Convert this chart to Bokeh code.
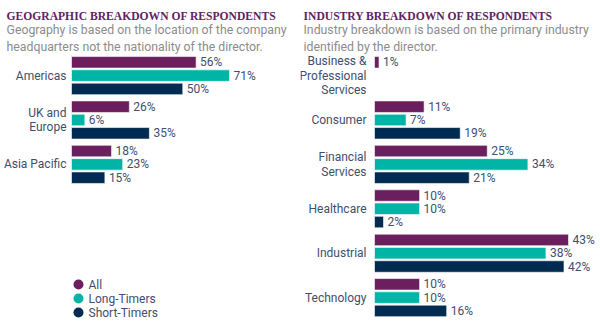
import math
from bokeh.plotting import figure
from bokeh.models import ColumnDataSource, Range1d, Label
from bokeh.layouts import row
from bokeh.embed import file_html
from bokeh.resources import INLINE
from bokeh.core.properties import value

# ---------------- data ----------------
series_names = ["All", "Long-Timers", "Short-Timers"]
series_colors = ["#6b1f5e", "#00b5a5", "#022b51"]

geo_categories = ["Americas", "UK and\nEurope", "Asia Pacific"]
geo_all = [56, 26, 18]
geo_long = [71, 6, 23]
geo_short = [50, 35, 15]

ind_categories = ["Business &\nProfessional\nServices", "Consumer", "Financial\nServices",
                  "Healthcare", "Industrial", "Technology"]
ind_all = [1, 11, 25, 10, 43, 10]
ind_long = [None, 7, 34, 10, 38, 10]
ind_short = [None, 19, 21, 2, 42, 16]

geo_title = "GEOGRAPHIC BREAKDOWN OF RESPONDENTS"
geo_sub = ["Geography is based on the location of the company",
           "headquarters not the nationality of the director."]
ind_title = "INDUSTRY BREAKDOWN OF RESPONDENTS"
ind_sub = ["Industry breakdown is based on the primary industry",
           "identified by the director."]

# ---------------- style ----------------
FONT = "Roboto"
TITLE_FONT = "Liberation Serif"
LABEL_COLOR = "#424e6e"
TITLE_COLOR = "#5e2364"
SUB_COLOR = "#8c8c8c"
PANEL_W, H = 300, 328
FIRST_Y = 61.8
GROUP_PITCH = 44.4
BAR_PITCH = 13.3
BAR_H = 11.5


def make_panel(title, sub_lines, cats, series, zero_px, px_per_pct, text_x, cat_gap, legend=False):
    x0 = -zero_px / px_per_pct
    x1 = (PANEL_W - zero_px) / px_per_pct
    p = figure(width=PANEL_W, height=H, output_backend="svg", toolbar_location=None,
               x_range=Range1d(x0, x1), y_range=Range1d(H, 0), min_border=0,
               x_axis_location=None, y_axis_location=None, outline_line_color=None)
    p.grid.visible = False

    ys, vals, cols, labels = [], [], [], []
    for g in range(len(cats)):
        for s, vlist in enumerate(series):
            v = vlist[g]
            if v is None:
                continue
            ys.append(FIRST_Y + g * GROUP_PITCH + s * BAR_PITCH)
            vals.append(v)
            cols.append(series_colors[s])
            labels.append(f"{v}%")
    src = ColumnDataSource(dict(y=ys, v=vals, c=cols, t=labels))
    p.hbar(y="y", left=0, right="v", height=BAR_H, fill_color="c", line_color="white",
           line_width=0.6, source=src)
    p.text(x="v", y="y", text="t", x_offset=4, text_align="left", text_baseline="middle",
           text_font=value(FONT), text_font_size="12px", text_color=LABEL_COLOR, source=src)

    csrc = ColumnDataSource(dict(x=[0] * len(cats),
                                 y=[FIRST_Y + g * GROUP_PITCH + BAR_PITCH for g in range(len(cats))],
                                 t=cats))
    p.text(x="x", y="y", text="t", x_offset=-cat_gap, text_align="right", text_baseline="middle",
           text_font=value(FONT), text_font_size="12px", text_color=LABEL_COLOR,
           text_line_height=1.05, source=csrc)

    p.add_layout(Label(x=text_x, y=16, x_units="screen", y_units="data", text=title,
                       text_font=TITLE_FONT, text_font_style="bold", text_font_size="11.6px",
                       text_color=TITLE_COLOR, text_baseline="alphabetic"))
    for i, line in enumerate(sub_lines):
        p.add_layout(Label(x=text_x, y=29.5 + i * 17, x_units="screen", y_units="data", text=line,
                           text_font=FONT, text_font_size="12.3px", text_color=SUB_COLOR,
                           text_baseline="alphabetic"))

    if legend:
        lx = (78 - zero_px) / px_per_pct
        lys = [284 + i * 14 for i in range(len(series_names))]
        p.scatter(x=[lx] * 3, y=lys, size=10, color=series_colors, line_color=None)
        p.text(x=[lx] * 3, y=lys, text=series_names, x_offset=10, text_align="left",
               text_baseline="middle", text_font=value(FONT), text_font_size="12px",
               text_color=LABEL_COLOR)
    return p


left = make_panel(geo_title, geo_sub, geo_categories, [geo_all, geo_long, geo_short],
                  zero_px=71, px_per_pct=(229 - 71) / 71, text_x=6, cat_gap=5, legend=True)
right = make_panel(ind_title, ind_sub, ind_categories, [ind_all, ind_long, ind_short],
                   zero_px=74, px_per_pct=(268 - 74) / 43, text_x=3, cat_gap=8)

layout = row(left, right, spacing=0)
open("out.html", "w").write(file_html(layout, INLINE))
